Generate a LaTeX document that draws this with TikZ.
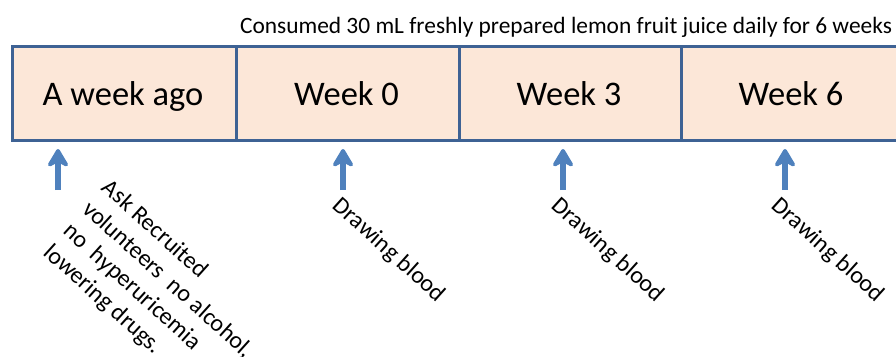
\documentclass[tikz,border=0pt]{standalone}
\usepackage{fontspec}
\setmainfont{Carlito}
\usetikzlibrary{arrows.meta}
\definecolor{cellfill}{RGB}{252,231,216}
\definecolor{cellborder}{RGB}{62,98,148}
\definecolor{arrowblue}{RGB}{79,129,189}
\tikzset{
  cell/.style={draw=cellborder, line width=3pt, fill=cellfill, minimum height=94pt, inner sep=0pt, anchor=north west},
  celltext/.style={anchor=base, font=\fontsize{34.5}{40}\selectfont},
  uparrow/.style={draw=arrowblue, line width=6pt, -{Stealth[width=26pt,length=22pt,inset=7pt,round]}},
  note/.style={rotate=-42, anchor=north west, inner sep=0pt, font=\fontsize{24}{29}\selectfont, align=left}
}
\begin{document}
\begin{tikzpicture}[x=1pt,y=-1pt]
\useasboundingbox (0,0) rectangle (896,356);
\begin{scope}
\clip (0,0) rectangle (896,356);
\node[cell, minimum width=224pt] (c1) at (11,45) {};
\node[cell, minimum width=223pt] (c2) at (235,45) {};
\node[cell, minimum width=222pt] (c3) at (458,45) {};
\node[cell, minimum width=240pt] (c4) at (680,45) {};
\end{scope}
\node[celltext] (l1) at (123,105) {A week ago};
\node[celltext] (l2) at (346.5,105) {Week 0};
\node[celltext] (l3) at (569,105) {Week 3};
\node[celltext] (l4) at (791,105) {Week 6};
\node[anchor=base, font=\fontsize{23.4}{28}\selectfont] (title) at (566,33) {Consumed 30 mL freshly prepared lemon fruit juice daily for 6 weeks};
\coordinate (t1) at (58,149); \coordinate (b1) at (58,190);
\coordinate (t2) at (343,149); \coordinate (b2) at (343,190);
\coordinate (t3) at (563,149); \coordinate (b3) at (563,190);
\coordinate (t4) at (785,149); \coordinate (b4) at (785,190);
\draw[uparrow] (b1) -- (t1);
\draw[uparrow] (b2) -- (t2);
\draw[uparrow] (b3) -- (t3);
\draw[uparrow] (b4) -- (t4);
\node[note] (n1) at (112,177) {Ask Recruited\\volunteers~~no alcohol,\\no~~hyperuricemia\\lowering drugs.};
\node[note] (n2) at (343,195) {Drawing blood};
\node[note] (n3) at (562,195) {Drawing blood};
\node[note] (n4) at (782,195) {Drawing blood};
\end{tikzpicture}
\end{document}
